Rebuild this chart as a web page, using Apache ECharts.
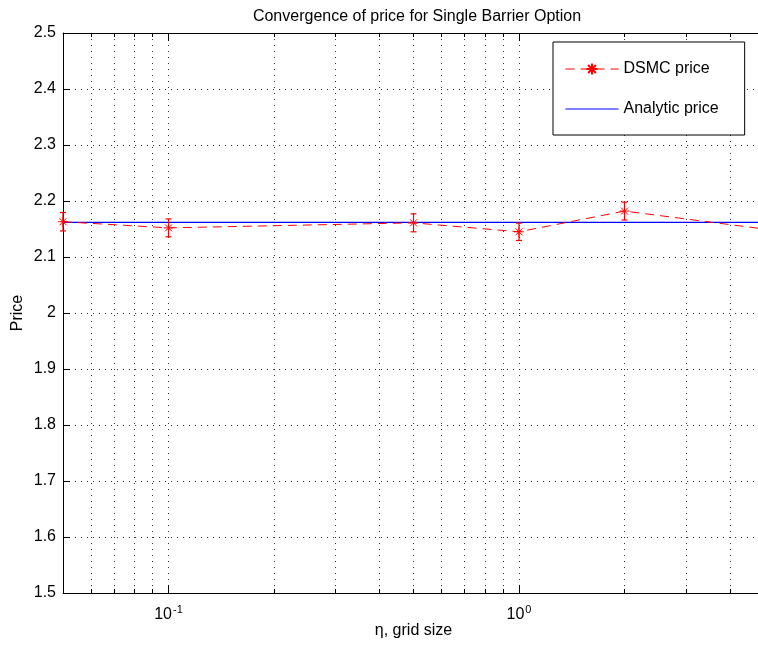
<!DOCTYPE html>
<html>
<head>
<meta charset="utf-8">
<script src="https://cdn.jsdelivr.net/npm/echarts@6/dist/echarts.min.js"></script>
<style>
  html, body { margin: 0; padding: 0; background: #fff; }
  #chart { width: 758px; height: 646px; }
</style>
</head>
<body>
<div id="chart"></div>
<script>
// grid sizes and prices
const eta = [0.05, 0.1, 0.5, 1, 2, 5];
const dsmcPrice = [2.163, 2.152, 2.161, 2.145, 2.182, 2.150];
const dsmcErr = [0.0165, 0.016, 0.016, 0.0155, 0.016, 0.016];
const analyticPrice = 2.162;
const xRange = [0.05, 5];
const majorTicks = [0.1, 1];
const minorTicks = [0.06, 0.07, 0.08, 0.09, 0.1, 0.2, 0.3, 0.4, 0.5, 0.6, 0.7, 0.8, 0.9, 1, 2, 3, 4];

const FONT = 'Liberation Sans, Arial, Helvetica, sans-serif';
const FS = 16;
const chart = echarts.init(document.getElementById('chart'));

const dotted = { color: '#333', width: 1, type: [1, 5] };

function logAxis(pos, opts) {
  return Object.assign({
    type: 'log',
    logBase: 10,
    min: xRange[0],
    max: xRange[1],
    position: pos,
    axisLine: { show: false },
    axisTick: { show: false },
    axisLabel: { show: false },
    splitLine: { show: false }
  }, opts);
}

const option = {
  animation: false,
  textStyle: { fontFamily: FONT },
  title: {
    text: 'Convergence of price for Single Barrier Option',
    left: 412,
    textAlign: 'center',
    top: 4,
    textStyle: { fontSize: FS, fontWeight: 'normal', color: '#000', fontFamily: FONT }
  },
  legend: {
    left: 553,
    top: 42,
    orient: 'vertical',
    padding: [19, 26, 18, 12],
    itemGap: 24,
    itemWidth: 53,
    itemHeight: 14,
    backgroundColor: '#fff',
    borderColor: '#000',
    borderWidth: 1,
    borderRadius: 0,
    textStyle: { fontSize: FS, color: '#000', fontFamily: FONT },
    data: [
      { name: 'DSMC price', lineStyle: { width: 1 } },
      { name: 'Analytic price', itemStyle: { opacity: 0 }, lineStyle: { width: 1 } }
    ]
  },
  grid: { left: 63, right: -6, top: 33, bottom: 53, outerBoundsMode: 'none', containLabel: false },
  xAxis: [
    logAxis('bottom', {
      axisLine: { show: true, lineStyle: { color: '#000', width: 1 } },
      axisTick: { show: true, inside: true, length: 4, customValues: minorTicks, lineStyle: { color: '#000' } },
      splitLine: { show: true, lineStyle: dotted }
    }),
    logAxis('bottom', {
      axisTick: { show: true, inside: true, length: 8, customValues: majorTicks, lineStyle: { color: '#000' } },
      axisLabel: {
        show: true,
        customValues: majorTicks,
        margin: 11,
        color: '#000',
        formatter: function (v) {
          const e = Math.round(Math.log10(v));
          return '{b|10}{s|' + e + '}';
        },
        rich: {
          b: { fontSize: FS, color: '#000', fontFamily: FONT },
          s: { fontSize: 11, color: '#000', fontFamily: FONT, padding: [0, 0, 11, 1] }
        }
      },
      name: 'η, grid size',
      nameLocation: 'middle',
      nameGap: 30,
      nameMoveOverlap: false,
      nameTextStyle: { fontSize: FS, color: '#000', fontFamily: FONT }
    }),
    logAxis('top', {
      axisLine: { show: true, lineStyle: { color: '#000', width: 1 } },
      axisTick: { show: true, inside: true, length: 4, customValues: minorTicks, lineStyle: { color: '#000' } }
    }),
    logAxis('top', {
      axisTick: { show: true, inside: true, length: 8, customValues: majorTicks, lineStyle: { color: '#000' } }
    })
  ],
  yAxis: {
    type: 'value',
    min: 1.5,
    max: 2.5,
    interval: 0.1,
    axisLine: { show: true, lineStyle: { color: '#000', width: 1 } },
    axisTick: { show: true, inside: true, length: 7, lineStyle: { color: '#000' } },
    axisLabel: {
      color: '#000',
      fontSize: FS,
      margin: 7,
      formatter: v => String(Math.round(v * 10) / 10)
    },
    splitLine: { show: true, lineStyle: dotted },
    name: 'Price',
    nameLocation: 'middle',
    nameGap: 37,
    nameRotate: 90,
    nameMoveOverlap: false,
    nameTextStyle: { fontSize: FS, color: '#000', fontFamily: FONT }
  },
  series: [
    {
      name: 'Analytic price',
      type: 'line',
      xAxisIndex: 0,
      data: [[xRange[0], analyticPrice], [xRange[1], analyticPrice]],
      symbol: 'none',
      lineStyle: { color: '#0000ff', width: 1.2 },
      itemStyle: { color: '#0000ff' },
      z: 3
    },
    {
      name: 'DSMC price',
      type: 'line',
      xAxisIndex: 0,
      data: eta.map((x, i) => [x, dsmcPrice[i]]),
      symbol: 'path://M0,-5L0,5M-5,0L5,0M-3.5,-3.5L3.5,3.5M-3.5,3.5L3.5,-3.5',
      symbolSize: 10,
      showSymbol: true,
      lineStyle: { color: '#ff0000', width: 1, type: [9, 6] },
      itemStyle: { color: '#ff0000', borderColor: '#ff0000', borderWidth: 1 },
      z: 4
    },
    {
      name: 'error',
      type: 'custom',
      xAxisIndex: 0,
      data: eta.map((x, i) => [x, dsmcPrice[i] - dsmcErr[i], dsmcPrice[i] + dsmcErr[i]]),
      renderItem: function (params, api) {
        const lo = api.coord([api.value(0), api.value(1)]);
        const hi = api.coord([api.value(0), api.value(2)]);
        const w = 3;
        const st = { stroke: '#ff0000', lineWidth: 1.2 };
        return {
          type: 'group',
          children: [
            { type: 'line', shape: { x1: lo[0], y1: lo[1], x2: hi[0], y2: hi[1] }, style: st },
            { type: 'line', shape: { x1: lo[0] - w, y1: lo[1], x2: lo[0] + w, y2: lo[1] }, style: st },
            { type: 'line', shape: { x1: hi[0] - w, y1: hi[1], x2: hi[0] + w, y2: hi[1] }, style: st }
          ]
        };
      },
      z: 5
    }
  ]
};

chart.setOption(option);
</script>
</body>
</html>
